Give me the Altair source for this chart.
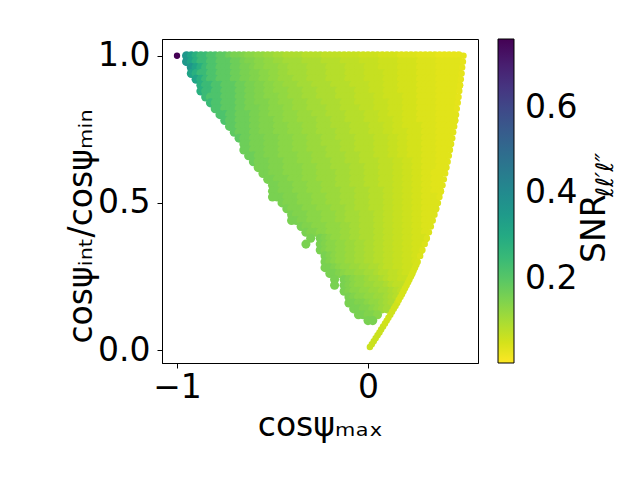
import altair as alt
import pandas as pd

# ---- colour code -> SNR value ----
CODE_CHARS = "abcdefghijklmnopqrstuv"
CODE_SNR = [0.030, 0.036, 0.042, 0.050, 0.058, 0.066, 0.075, 0.085, 0.095, 0.105,
            0.115, 0.125, 0.135, 0.145, 0.155, 0.170, 0.190, 0.215, 0.245, 0.280,
            0.320, 0.360]
CELL_STEP = 0.025  # spacing of the digitised cells along cos(psi_max)

# ---- digitised body of the scatter: one string per row, one char per cell ----
ROW_Y = [1.00, 0.98, 0.96, 0.94, 0.92, 0.90, 0.88, 0.86, 0.84, 0.82,
         0.80, 0.78, 0.76, 0.74, 0.72, 0.70, 0.68, 0.66, 0.64, 0.62,
         0.60, 0.58, 0.56, 0.54, 0.52, 0.50, 0.48, 0.46, 0.44, 0.42,
         0.40, 0.38, 0.36, 0.34, 0.32, 0.30, 0.28, 0.26, 0.24, 0.22,
         0.20, 0.18, 0.16, 0.14, 0.12, 0.10]
ROW_X0 = [-0.95, -0.95, -0.925, -0.925, -0.9, -0.875, -0.875, -0.85, -0.825, -0.8,
          -0.775, -0.75, -0.725, -0.7, -0.675, -0.65, -0.65, -0.625, -0.6, -0.575,
          -0.55, -0.525, -0.5, -0.5, -0.5, -0.45, -0.425, -0.4, -0.4, -0.35,
          -0.325, -0.3, -0.325, -0.25, -0.225, -0.225, -0.225, -0.2, -0.175, -0.175,
          -0.125, -0.1, -0.1, -0.075, -0.05, 0.0]
ROW_CELLS = [
    "vutssrrqqpoonmmllkkjjiiiihhhhggggffffeeeeddddccccbbbbaaaaa",
    "vutssrrqqqpponnmmllkkjjjjiiiihhhhggggffffeeeeddddccccbbbbb",
    "vutsrrqqqppoonmmlllkkjjjjiiiihhhhggggfffeeeeddddccccbbbbb",
    "utssrrqqqppoonnmmllkkjjjjiiiihhhhggggffffeeeddddccccbbbbb",
    "utsrrqqqppoonnmmllkkkjjjiiiihhhhggggffffeeeddddccccbbbbb",
    "tssrrqqqppoonnmmllkkkjjjiiiihhhhggggfffeeeddddccccbbbbb",
    "tssrrqqqppoonnmmlllkkkjjjiiiihhhhgggfffeeeddddccccbbbb",
    "srrrqqqppoonnmmmllkkkjjjiiiihhhhggggffeeeedddccccbbbb",
    "srrqqqppoonnnmmlllkkkjjjiiiihhhggggfffeeedddccccbbbb",
    "rrqqqppooonnmmmllkkkjjjjiiihhhhgggfffeeedddccccbbbb",
    "rrqqpppoonnmmmlllkkkjjjiiiihhhhgggffeeedddccccbbbb",
    "rqqpppoonnnmmlllkkkkjjjiiihhhhgggfffeedddccccbbbb",
    "qqpppoonnnmmmlllkkkjjjiiiihhhhgggffeeddddcccbbb",
    "qpppoonnnmmmlllkkkjjjjiiihhhhgggffeeedddcccbbb",
    "qppooonnnmmmlllkkkjjjiiiihhhhgggffeedddcccbbb",
    "ppooonnnmmmlllkkkjjjjiiihhhhgggffeedddcccbbb",
    "ppooonnnmmmlllkkkkjjjiiihhhhgggffeedddcccbb",
    "ppoonnnmmmmlllkkkjjjjiiihhhgggffeedddcccbb",
    "pooonnnmmmlllkkkkjjjiiihhhhgggffeeddcccbb",
    "ooonnnmmmmlllkkkjjjjiiihhhgggffeeddcccbb",
    "oonnnmmmmlllkkkkjjjiiihhhgggffeeddccbb",
    "oonnnmmmlllkkkkjjjiiihhhgggffeeddccbb",
    "oonnnmmmlllkkkjjjiiihhhgggffeeddccbb",
    "oonnnmmmlllkkkkjjjiiihhhggffeeddccbb",
    "ooonnnmmmlllkkkjjjiiihhhggffeeddccc",
    "onnnmmmlllkkkjjjiiihhhggffeeddccc",
    "onnnmmmlllkkkjjiiihhhggffeeddccc",
    "onnnmmmlllkkjjjiiihhggffeeddcc",
    "oonnmmmlllkkjjjiiihhggffeeddcc",
    "onnmmmlllkkjjiiihhggffeeddc",
    "onnmmlllkkjjiiihhggffeeddc",
    "o.onmllkkjjiiihhggffeeddd",
    "o..onmmllkkjjiihhggffeedd",
    "onmmllkkjjiihhggffeedd",
    "onmllkkjjiihhggffeed",
    "onmllkkjjiihhggffeed",
    "oonmllkkjjiihggffee",
    "oonmllkkjjihhggfee",
    "o.onmllkjjihggff",
    "o.onmllkkjjihgg",
    "onmmllkkjjihg",
    "onmmllkkjih",
    "oonnmllkji",
    "oonnmlkj",
    "oonnm",
    "oo",
]

# ---- thin isosceles branch along the right edge ----
STRIP_Y = [0.01, 0.02, 0.03, 0.04, 0.05, 0.06, 0.07, 0.08, 0.09, 0.10,
           0.11, 0.12, 0.13, 0.14, 0.15, 0.16, 0.17, 0.18, 0.19, 0.20,
           0.21, 0.22, 0.23, 0.24, 0.25, 0.26, 0.27, 0.28, 0.29, 0.30,
           0.32, 0.34, 0.36, 0.38, 0.40, 0.42, 0.44, 0.46, 0.48, 0.50,
           0.52, 0.54, 0.56, 0.58, 0.60, 0.62, 0.64, 0.66, 0.68, 0.70,
           0.72, 0.74, 0.76, 0.78, 0.80, 0.82, 0.84, 0.86, 0.88, 0.90,
           0.92, 0.94, 0.96, 0.98, 1.00]
STRIP_X = [0.010, 0.020, 0.030, 0.040, 0.050, 0.060, 0.069, 0.079, 0.089, 0.098,
           0.107, 0.117, 0.126, 0.135, 0.144, 0.153, 0.161, 0.170, 0.178, 0.186,
           0.194, 0.202, 0.210, 0.217, 0.225, 0.232, 0.239, 0.246, 0.253, 0.260,
           0.273, 0.285, 0.297, 0.308, 0.319, 0.329, 0.339, 0.348, 0.357, 0.366,
           0.374, 0.382, 0.390, 0.397, 0.404, 0.411, 0.417, 0.423, 0.429, 0.435,
           0.441, 0.446, 0.451, 0.456, 0.461, 0.465, 0.470, 0.474, 0.478, 0.482,
           0.486, 0.490, 0.493, 0.497, 0.500]
STRIP_SNR = [0.062] * 8 + [0.055] * 8 + [0.048] * 14 + [0.042] * 10 + [0.036] * 15 + [0.032] * 10

# ---- the single high-SNR configuration ----
PEAK_X = [-1.0]
PEAK_Y = [1.0]
PEAK_SNR = [0.762]

CBAR_DOMAIN = [0.002, 0.762]
CBAR_TICKS = [0.2, 0.4, 0.6]
X_TICKS = [-1, 0]
Y_TICKS = [0.0, 0.5, 1.0]

# ---- build tables ----
code_map = dict(zip(CODE_CHARS, CODE_SNR))
rows = []
for yv, x0, cells in zip(ROW_Y, ROW_X0, ROW_CELLS):
    for i, ch in enumerate(cells):
        if ch != ".":
            rows.append({"x": round(x0 + i * CELL_STEP, 4), "y": yv, "snr": code_map[ch]})
body_df = pd.DataFrame(rows)
strip_df = pd.DataFrame({"x": STRIP_X, "y": STRIP_Y, "snr": STRIP_SNR})
peak_df = pd.DataFrame({"x": PEAK_X, "y": PEAK_Y, "snr": PEAK_SNR})

FONT = "DejaVu Sans"
FS = 33

xs = alt.Scale(domain=[-1.0785, 0.576], nice=False, zero=False)
ys = alt.Scale(domain=[-0.044, 1.057], nice=False, zero=False)
cs = alt.Scale(scheme="viridis", reverse=True, domain=CBAR_DOMAIN)

x_enc = alt.X("x:Q", scale=xs,
              axis=alt.Axis(values=X_TICKS, format="d", title="cosψₘₐₓ",
                            titleY=72, titleBaseline="alphabetic",
                            labelPadding=3, tickSize=5))
y_enc = alt.Y("y:Q", scale=ys,
              axis=alt.Axis(values=Y_TICKS, format=".1f", title="cosψᵢₙₜ/cosψₘᵢₙ",
                            titleX=-71, titleY=187, titleAngle=270,
                            titleAlign="center", titleBaseline="alphabetic",
                            labelPadding=7, tickSize=5))
legend = alt.Legend(orient="none", legendX=336, legendY=0, direction="vertical",
                    gradientLength=324, gradientThickness=16, values=CBAR_TICKS,
                    labelFontSize=FS, labelFont=FONT, labelColor="black",
                    labelOffset=11, gradientStrokeColor="black", gradientStrokeWidth=1)

body = alt.Chart(body_df).mark_circle(size=82, opacity=1).encode(
    x=x_enc, y=y_enc,
    color=alt.Color("snr:Q", scale=cs, legend=legend, title=None))
strip = alt.Chart(strip_df).mark_circle(size=42, opacity=1).encode(
    x="x:Q", y="y:Q", color=alt.Color("snr:Q", scale=cs, legend=None))
peak = alt.Chart(peak_df).mark_circle(size=40, opacity=1).encode(
    x="x:Q", y="y:Q", color=alt.Color("snr:Q", scale=cs, legend=None))

cb_title = alt.Chart(pd.DataFrame({"t": ["SNR"]})).mark_text(
    angle=270, align="left", baseline="alphabetic", fontSize=FS, font=FONT, color="black"
).encode(x=alt.value(443), y=alt.value(224), text="t:N")
cb_sub = alt.Chart(pd.DataFrame({"t": ["ℓℓ′ℓ″"]})).mark_text(
    angle=270, align="left", baseline="alphabetic", fontSize=24, font=FONT,
    fontStyle="italic", color="black"
).encode(x=alt.value(451), y=alt.value(158), text="t:N")

chart = alt.layer(body, strip, peak, cb_title, cb_sub).properties(
    width=316, height=324,
    autosize=alt.AutoSizeParams(type="none"),
    padding={"left": 154, "top": 31, "right": 150, "bottom": 105},
).configure_view(stroke="black", strokeWidth=1).configure_axis(
    grid=False, domainColor="black", tickColor="black", labelColor="black",
    titleColor="black", labelFont=FONT, titleFont=FONT, labelFontSize=FS,
    titleFontSize=FS, titleFontWeight="normal", domainWidth=1, tickWidth=1,
)

chart.save("out.html", embed_options={"renderer": "svg", "actions": False})
